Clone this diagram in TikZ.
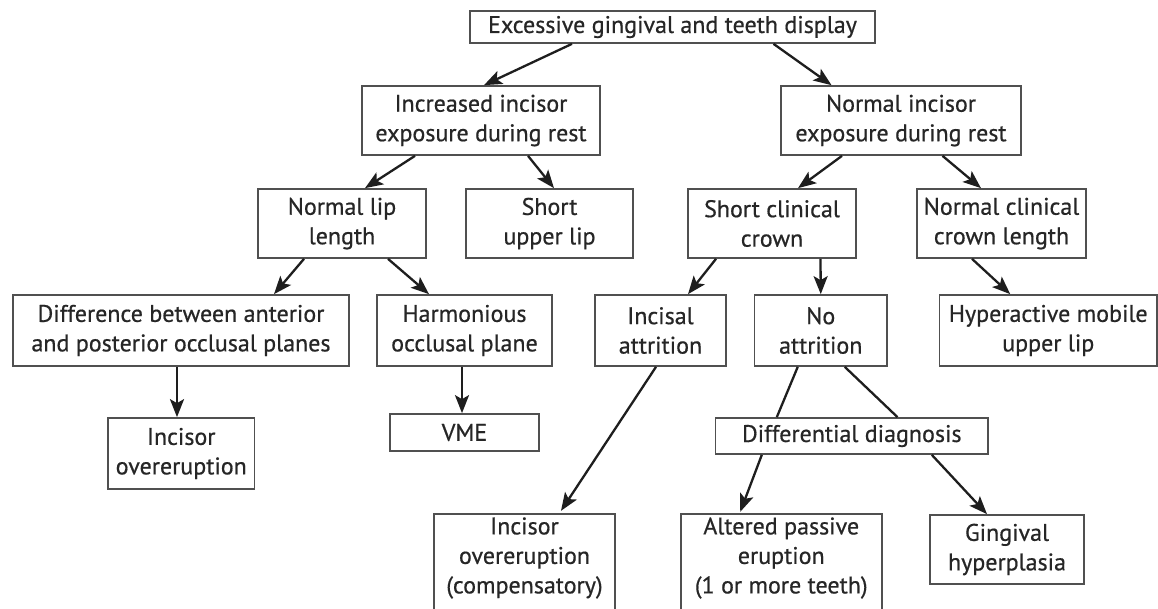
\documentclass[tikz,border=0pt]{standalone}
\usepackage{fontspec}
\setmainfont{PT Sans}[FakeBold=0.6]
\usetikzlibrary{arrows.meta}
\definecolor{txt}{HTML}{262626}
\definecolor{frame}{HTML}{505050}
\definecolor{arr}{HTML}{1E1E1E}
\tikzset{
  box/.style={draw=frame, line width=1.7pt, rectangle, align=center, inner sep=0pt,
    text=txt, font=\fontsize{24}{29.5}\selectfont},
  openbox/.style={rectangle, align=center, inner sep=0pt,
    text=txt, font=\fontsize{24}{29.5}\selectfont},
  arrowline/.style={draw=arr, line width=2.3pt, -{Stealth[length=18pt,width=14pt,inset=4pt]}},
  plainline/.style={draw=arr, line width=2.3pt},
  openframe/.style={draw=frame, line width=1.7pt}
}
\begin{document}
\begin{tikzpicture}[x=1pt,y=1pt]
\clip (0,0) rectangle (1158,-608);
\fill[white] (0,0) rectangle (1158,-608);

\node[box, minimum width=405, minimum height=32] (top) at (672.5,-27) {Excessive gingival and teeth display};
\node[box, minimum width=238, minimum height=69] (inc) at (481,-120.5) {Increased incisor\\exposure during rest};
\node[box, minimum width=240, minimum height=69] (nie) at (901,-120.5) {Normal incisor\\exposure during rest};
\node[box, minimum width=168, minimum height=69] (nll) at (342,-223.5) {Normal lip\\length};
\node[box, minimum width=167, minimum height=69] (sul) at (549.5,-223.5) {Short\\upper lip};
\node[box, minimum width=168, minimum height=69] (scc) at (772,-223.5) {Short clinical\\crown};
\node[box, minimum width=169, minimum height=69] (ncc) at (1001.5,-223.5) {Normal clinical\\crown length};
\node[box, minimum width=336, minimum height=71] (diff) at (181,-330.5) {Difference between anterior\\and posterior occlusal planes};
\node[box, minimum width=175, minimum height=71] (harm) at (464.5,-330.5) {Harmonious\\occlusal plane};
\node[box, minimum width=131, minimum height=71] (ia) at (660.5,-330.5) {Incisal\\attrition};
\node[box, minimum width=132.5, minimum height=71] (na) at (820.75,-330.5) {No\\attrition};
\node[box, minimum width=217.5, minimum height=71] (hyp) at (1048.25,-330.5) {Hyperactive mobile\\upper lip};
\node[box, minimum width=146.5, minimum height=71] (io) at (181.25,-453.5) {Incisor\\overeruption};
\node[box, minimum width=149, minimum height=37] (vme) at (464.5,-432.5) {VME};
\node[box, minimum width=272.4, minimum height=36] (dd) at (851.8,-436) {Differential diagnosis};
\node[openbox, minimum width=181, minimum height=88] (ioc) at (524.5,-558) {Incisor\\overeruption\\(compensatory)};
\node[openbox, minimum width=200.5, minimum height=86] (apr) at (781.25,-558) {Altered passive\\eruption\\(1 or more teeth)};
\node[box, minimum width=154, minimum height=69] (gh) at (1007,-549.5) {Gingival\\hyperplasia};

\draw[openframe] ([yshift=-30]ioc.south west) -- (ioc.north west) -- (ioc.north east) -- ([yshift=-30]ioc.south east);
\draw[openframe] ([yshift=-30]apr.south west) -- ([yshift=1]apr.north west) -- ([yshift=1]apr.north east) -- ([yshift=-30]apr.south east);

\draw[arrowline] ([xshift=-100.5]top.south) -- ([xshift=3]inc.north);
\draw[arrowline] ([xshift=101]top.south) -- ([xshift=-69.5]nie.north);
\draw[arrowline] ([xshift=-66]inc.south) -- ([xshift=23]nll.north);
\draw[arrowline] ([xshift=47]inc.south) -- ([xshift=4.5]sul.north);
\draw[arrowline] ([xshift=-59]nie.south) -- ([xshift=26]scc.north);
\draw[arrowline] ([xshift=41.5]nie.south) -- ([xshift=-20.5]ncc.north);
\draw[arrowline] ([xshift=-38]nll.south) -- ([xshift=93]diff.north);
\draw[arrowline] ([xshift=46]nll.south) -- ([xshift=-35.5]harm.north);
\draw[arrowline] ([xshift=-56]scc.south) -- ([xshift=27.5]ia.north);
\draw[arrowline] ([xshift=48.5]scc.south) -- (na.north);
\draw[arrowline] ([xshift=-29.5]ncc.south) -- ([xshift=-38]hyp.north);
\draw[arrowline] ([xshift=-4]diff.south) -- ([xshift=-4.25]io.north);
\draw[arrowline] ([xshift=-2.5]harm.south) -- ([xshift=-2.5]vme.north);
\draw[arrowline] ([xshift=-4.5]ia.south) -- ([xshift=36.5,yshift=3]ioc.north);
\draw[plainline] ([xshift=-23]na.south) -- ([xshift=-75]dd.north);
\draw[plainline] ([xshift=24]na.south) -- ([xshift=45.7]dd.north);
\draw[arrowline] ([xshift=-90]dd.south) -- ([xshift=-41,yshift=3]apr.north);
\draw[arrowline] ([xshift=80]dd.south) -- ([xshift=-20]gh.north);
\end{tikzpicture}
\end{document}
